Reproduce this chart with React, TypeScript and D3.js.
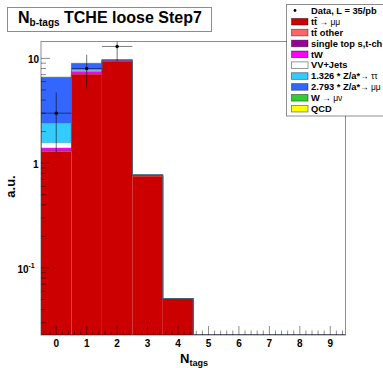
import React from 'react';
import * as d3 from 'd3';

// N b-tags, TCHE loose, Step7
const bins = [0, 1, 2, 3, 4, 5, 6, 7, 8, 9];
const ttMuMu = [1.29, 7.06, 9.4, 0.75, 0.051, 0, 0, 0, 0, 0];
const ttOther = [0.015, 0.08, 0.08, 0.005, 0, 0, 0, 0, 0, 0];
const singleTop = [0.02, 0.05, 0.06, 0.015, 0, 0, 0, 0, 0, 0];
const tW = [0.07, 0.35, 0.1, 0.005, 0, 0, 0, 0, 0, 0];
const vvJets = [0.17, 0.12, 0.02, 0, 0, 0, 0, 0, 0, 0];
const zTauTau = [0.84, 0.15, 0.02, 0, 0, 0, 0, 0, 0, 0];
const zMuMu = [4.2, 1.15, 0.04, 0, 0, 0, 0, 0, 0, 0];
const wMuNu = [0.01, 0.02, 0, 0, 0, 0, 0, 0, 0, 0];
const qcd = [0, 0, 0, 0, 0, 0, 0, 0, 0, 0];
const dataCounts = [3, 8, 13, 0, 0, 0, 0, 0, 0, 0];

const layers = [
    { name: 'ttmm', values: ttMuMu, color: '#cc0000' },
    { name: 'ttother', values: ttOther, color: '#ff6666' },
    { name: 'singletop', values: singleTop, color: '#990099' },
    { name: 'tW', values: tW, color: '#ff00ff' },
    { name: 'vv', values: vvJets, color: '#ffffff' },
    { name: 'ztt', values: zTauTau, color: '#33ccff' },
    { name: 'zmm', values: zMuMu, color: '#3366ff' },
    { name: 'w', values: wMuNu, color: '#33cc33' },
    { name: 'qcd', values: qcd, color: '#ffff00' }
];

const FONT = '"Liberation Sans", Arial, Helvetica, sans-serif';

export default function App() {
    const left = 41, right = 345.5, top = 41.5, bottom = 335;
    const ymin = 0.0229, ymax = 14.5;

    const xScale = d3.scaleLinear().domain([-0.5, 9.5]).range([left, right]);
    const yScale = d3.scaleLog().domain([ymin, ymax]).range([bottom, top]);
    const yc = (v: number) => (v <= ymin ? bottom : Math.max(top, yScale(v)));

    // cumulative stack
    const cum: number[][] = [];
    let run = bins.map(() => 0);
    layers.forEach(l => {
        const lo = run.slice();
        run = run.map((r, i) => r + l.values[i]);
        cum.push(lo.concat(run));
    });

    const rects: JSX.Element[] = [];
    const outlines: JSX.Element[] = [];
    layers.forEach((l, li) => {
        const lo = cum[li].slice(0, 10);
        const hi = cum[li].slice(10);
        bins.forEach((b, i) => {
            if (l.values[i] <= 0) return;
            const y1 = yc(hi[i]);
            const y0 = yc(lo[i]);
            if (y0 - y1 <= 0) return;
            rects.push(
                <rect key={l.name + i} x={xScale(b - 0.5)} y={y1}
                      width={xScale(b + 0.5) - xScale(b - 0.5)} height={y0 - y1}
                      fill={l.color} />
            );
        });
        if (d3.sum(l.values) > 0) {
            const pts: [number, number][] = [[xScale(-0.5), bottom]];
            bins.forEach((b, i) => {
                pts.push([xScale(b - 0.5), yc(hi[i])]);
                pts.push([xScale(b + 0.5), yc(hi[i])]);
            });
            const stroke = l.name === 'vv' ? '#777' : d3.color(l.color)!.darker(1).toString();
            outlines.push(
                <path key={'o' + l.name} d={d3.line()(pts) || ''} fill="none"
                      stroke={stroke} strokeWidth={0.7} strokeOpacity={0.5} />
            );
        }
    });

    // axis ticks
    const tickColor = '#000';
    const yTicks: JSX.Element[] = [];
    [0.01, 0.1, 1, 10].forEach(dec => {
        for (let m = 1; m <= 9; m++) {
            const v = dec * m;
            if (v < ymin || v > ymax) continue;
            const y = yScale(v);
            const len = m === 1 ? 9 : 5;
            yTicks.push(<line key={'yt' + v} x1={left} x2={left + len} y1={y} y2={y}
                              stroke={tickColor} strokeOpacity={0.45} />);
        }
    });
    const xTicks: JSX.Element[] = [];
    d3.range(-0.4, 9.5, 0.2).forEach(v => {
        const r = Math.round(v * 10) / 10;
        const major = Math.abs(r - Math.round(r)) < 1e-6;
        const len = major ? 9 : 4.5;
        const x = xScale(r);
        xTicks.push(<line key={'xt' + r} x1={x} x2={x} y1={bottom} y2={bottom - len}
                          stroke={tickColor} strokeOpacity={0.45} />);
    });

    const legendRows = [
        { color: '#cc0000', label: [['tt\u0304', 'bold'], [' \u2192 \u03bc\u03bc', 'normal']] },
        { color: '#ff6666', label: [['tt\u0304 other', 'bold']] },
        { color: '#990099', label: [['single top s,t-ch', 'bold']] },
        { color: '#ff00ff', label: [['tW', 'bold']] },
        { color: '#ffffff', label: [['VV+Jets', 'bold']] },
        { color: '#33ccff', label: [['1.326 * Z/a*', 'bold'], ['\u2192 \u03c4\u03c4', 'normal']] },
        { color: '#3366ff', label: [['2.793 * Z/a*', 'bold'], ['\u2192 \u03bc\u03bc', 'normal']] },
        { color: '#33cc33', label: [['W ', 'bold'], ['\u2192 \u03bc\u03bd', 'normal']] },
        { color: '#ffff00', label: [['QCD', 'bold']] }
    ];

    return (
        <svg width={383} height={368} style={{ position: 'absolute', left: 0, top: 0, background: '#fff' }}>
            <defs>
                <clipPath id="plotClip">
                    <rect x={left} y={top} width={right - left} height={bottom - top} />
                </clipPath>
            </defs>
            <rect x={0} y={0} width={383} height={368} fill="#fff" />

            {/* stack */}
            <g clipPath="url(#plotClip)">
                {rects}
                {outlines}
            </g>

            {/* data */}
            <g clipPath="url(#plotClip)">
                {bins.map((b, i) => {
                    const n = dataCounts[i];
                    if (n <= 0) return null;
                    const err = Math.sqrt(n);
                    const cx = xScale(b);
                    const cy = yScale(n);
                    return (
                        <g key={'d' + i}>
                            <line x1={xScale(b - 0.5)} x2={xScale(b + 0.5)} y1={cy} y2={cy}
                                  stroke="#000" strokeOpacity={0.5} />
                            <line x1={cx} x2={cx} y1={yc(n + err)} y2={yc(n - err)}
                                  stroke="#000" strokeOpacity={0.55} />
                            <circle cx={cx} cy={cy} r={1.7} fill="#000" />
                        </g>
                    );
                })}
            </g>

            {/* frame and ticks */}
            <rect x={left} y={top} width={right - left} height={bottom - top} fill="none"
                  stroke="#000" strokeOpacity={0.45} />
            {yTicks}
            {xTicks}

            {/* tick labels */}
            <g fontFamily={FONT} fontWeight="bold" fontSize={10} fill="#000">
                {bins.map(b => (
                    <text key={'xl' + b} x={xScale(b)} y={346.5} textAnchor="middle">{b}</text>
                ))}
                <text x={39} y={62.5} textAnchor="end">10</text>
                <text x={38.5} y={167.5} textAnchor="end">1</text>
                <text x={28.5} y={272.5} textAnchor="end">10</text>
                <text x={28.5} y={268} fontSize={7}>-1</text>
            </g>

            {/* axis titles */}
            <text x={180} y={363.3} fontFamily={FONT} fontWeight="bold" fontSize={13}>
                N<tspan fontSize={9} dy={2.8}>tags</tspan>
            </text>
            <text transform="translate(15,186.5) rotate(-90)" textAnchor="middle"
                  fontFamily={FONT} fontWeight="bold" fontSize={13}>a.u.</text>

            {/* title box */}
            <rect x={7.5} y={7.5} width={204} height={24} fill="#fff" stroke="#000" strokeOpacity={0.45} />
            <text x={18} y={22.7} fontFamily={FONT} fontWeight="bold" fontSize={16}>
                N<tspan fontSize={10} dy={3.3}>b-tags</tspan>
                <tspan dy={-3.3}> TCHE loose Step7</tspan>
            </text>

            {/* legend */}
            <rect x={286.5} y={4.5} width={110} height={111.5} fill="#fff" stroke="#000" strokeOpacity={0.45} />
            <circle cx={295} cy={10.5} r={1.4} fill="#000" />
            <text x={311} y={13.8} fontFamily={FONT} fontWeight="bold" fontSize={9.3}>Data, L = 35/pb</text>
            {legendRows.map((r, i) => {
                const cy = 21.7 + 10.87 * i;
                return (
                    <g key={'lg' + i}>
                        <rect x={291.5} y={cy - 3.3} width={16.5} height={6.6} fill={r.color}
                              stroke="#000" strokeOpacity={0.5} strokeWidth={0.8} />
                        <text x={311} y={cy + 3.3} fontFamily={FONT} fontSize={9.3}>
                            {r.label.map((p, j) => (
                                <tspan key={j} fontWeight={p[1]}
                                       fontSize={p[1] === 'normal' ? 8.5 : 9.3}>{p[0]}</tspan>
                            ))}
                        </text>
                    </g>
                );
            })}
        </svg>
    );
}
